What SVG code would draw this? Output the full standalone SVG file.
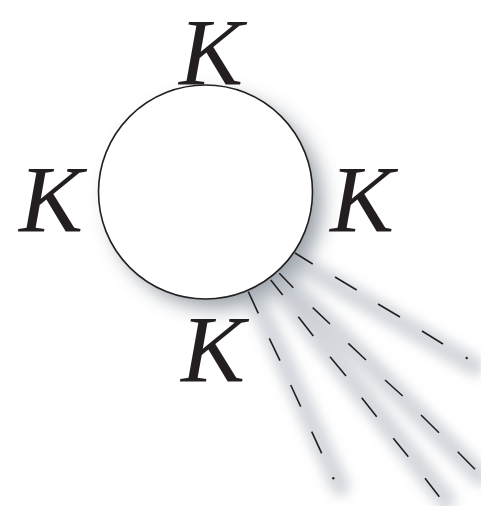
<svg xmlns="http://www.w3.org/2000/svg" width="481" height="506" viewBox="0 0 481 506">
  <defs>
    <filter id="blurBig" x="-50%" y="-50%" width="200%" height="200%">
      <feGaussianBlur stdDeviation="10"/>
    </filter>
    <filter id="blurRay" x="-50%" y="-50%" width="200%" height="200%">
      <feGaussianBlur stdDeviation="6"/>
    </filter>
  </defs>
  <style>
    .k { font-family: "Liberation Serif", "DejaVu Serif", serif; font-style: italic; font-size: 96px; fill: #231f20; text-anchor: middle; }
    .dash { fill: none; stroke: #231f20; stroke-width: 1.6; stroke-linecap: butt; }
    .rayshadow { fill: none; stroke: #aab0b9; stroke-width: 20; stroke-linecap: round; opacity: 0.5; }
    .dot { fill: #231f20; }
  </style>

  <g id="shadows">
    <circle cx="216" cy="202" r="106" fill="#7f8791" opacity="0.8" filter="url(#blurBig)"/>
    <g filter="url(#blurRay)">
      <line class="rayshadow" x1="298" y1="262" x2="474" y2="366"/>
      <line class="rayshadow" x1="278" y1="288" x2="446" y2="500"/>
      <line class="rayshadow" x1="288" y1="282" x2="480" y2="476"/>
      <line class="rayshadow" x1="256" y1="300" x2="340" y2="486"/>
    </g>
  </g>

  <g id="connectors">
    <g id="ray1">
      <path class="dash" d="M295,253 L312.7,264 M335,277 L356.7,290 M378,304 L400,317 M422,331 L443,344"/>
      <circle class="dot" cx="466.7" cy="358" r="1.2"/>
    </g>
    <g id="ray2">
      <path class="dash" d="M270.7,280 L282.7,295 M298.3,316.7 L313.3,336 M330,356.7 L346,376 M361.7,397.7 L376.7,416.7 M393.3,438.3 L408.3,456.7 M425,478.3 L439.3,496.7"/>
    </g>
    <g id="ray3">
      <path class="dash" d="M279.3,273.3 L293.3,287.7 M312.7,307.7 L330,324 M348.3,343.3 L366,360 M385,380 L402.7,396 M421,415 L439,432.7 M457.7,451.7 L475,469.3"/>
    </g>
    <g id="ray4">
      <path class="dash" d="M248.3,291.7 L258.3,313.3 M269.3,338.3 L280,360.7 M290.7,385 L300.7,406.7 M311.7,431.7 L321.7,453.3"/>
      <circle class="dot" cx="333.3" cy="478.3" r="1.2"/>
    </g>
  </g>

  <g id="circle">
    <circle cx="205.5" cy="192" r="107" fill="#ffffff" stroke="#231f20" stroke-width="1.6"/>
  </g>

  <g id="k-top"><text class="k" x="211" y="85">K</text></g>
  <g id="k-left"><text class="k" x="51" y="232">K</text></g>
  <g id="k-right"><text class="k" x="362" y="232">K</text></g>
  <g id="k-bottom"><text class="k" x="213" y="382">K</text></g>
</svg>
